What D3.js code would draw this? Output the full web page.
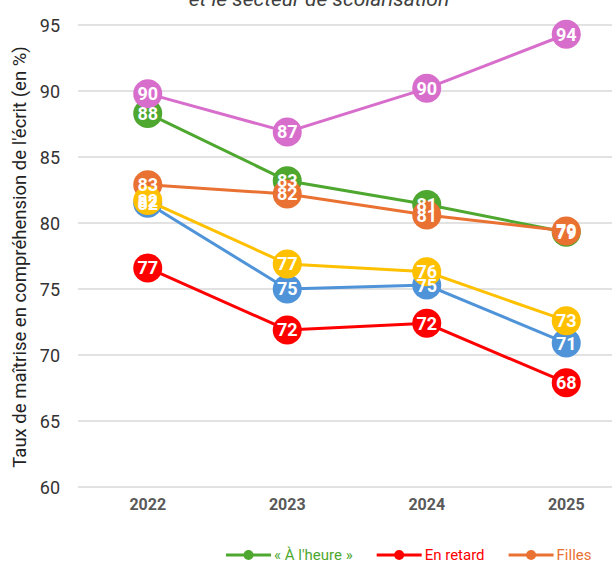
<!DOCTYPE html>
<html><head><meta charset="utf-8">
<script src="https://cdn.jsdelivr.net/npm/d3@7"></script>
<style>body{margin:0;background:#fff}svg{display:block;font-family:Roboto,"Noto Sans",sans-serif}</style>
</head><body><svg id="c" width="612" height="563"></svg>
<script>
const years = ["2022","2023","2024","2025"];
const yTicks = [60,65,70,75,80,85,90,95];
const seriesNames = ["« À l'heure »","Filles","Série bleue","Série jaune","En retard","Série rose"];
const seriesColors = ["#4ea72e","#e97132","#4f93d8","#ffc000","#ff0000","#d86ecc"];
const valAHeure = [88.3,83.2,81.4,79.3];
const valFilles = [82.9,82.2,80.6,79.4];
const valBleue = [81.5,75.0,75.3,70.9];
const valJaune = [81.7,76.9,76.3,72.6];
const valRetard = [76.6,71.9,72.4,67.9];
const valRose = [89.8,86.9,90.2,94.3];
const seriesValues = [valAHeure,valFilles,valBleue,valJaune,valRetard,valRose];
const legendIdx = [0,4,1];
const titleText = "et le secteur de scolarisation";
const yTitle = "Taux de maîtrise en compréhension de l'écrit (en %)";

const svg = d3.select("#c");
const x = d3.scaleBand().domain(years).range([78,636]).padding(0);
const y = d3.scaleLinear().domain([60,95]).range([487,25]);
const cx = d => x(d)+x.bandwidth()/2;

svg.append("text").attr("x",319).attr("y",6).attr("text-anchor","middle")
  .attr("font-size",21).attr("font-style","italic").attr("fill","#404040").text(titleText);

// grid
svg.append("g").selectAll("line").data(yTicks).join("line")
  .attr("x1",78).attr("x2",640).attr("y1",d=>y(d)).attr("y2",d=>y(d))
  .attr("stroke","#d9d9d9").attr("stroke-width",1.5);

// y axis labels
const yAxis = d3.axisLeft(y).tickValues(yTicks).tickSize(0).tickPadding(0);
const gy = svg.append("g").attr("transform","translate(60,0)").call(yAxis);
gy.select(".domain").remove();
gy.selectAll("text").attr("font-size",18).attr("fill","#333").attr("font-family","Roboto").attr("dy","0.35em");

// x axis labels
const xAxis = d3.axisBottom(x).tickSize(0).tickPadding(0);
const gx = svg.append("g").attr("transform","translate(0,504)").call(xAxis);
gx.select(".domain").remove();
gx.selectAll("text").attr("font-size",16).attr("font-weight","bold").attr("fill","#595959").attr("font-family","Roboto").attr("dy","0.35em");

// y title
svg.append("text").attr("transform","translate(26,257) rotate(-90)").attr("text-anchor","middle")
  .attr("font-size",18.5).attr("fill","#222").text(yTitle);

const line = d3.line().x((d,i)=>cx(years[i])).y(d=>y(d));
seriesValues.forEach((vals,si)=>{
  const g = svg.append("g");
  g.append("path").datum(vals).attr("d",line).attr("fill","none")
    .attr("stroke",seriesColors[si]).attr("stroke-width",3);
  g.selectAll("circle").data(vals).join("circle")
    .attr("cx",(d,i)=>cx(years[i])).attr("cy",d=>y(d)).attr("r",14.5)
    .attr("fill",seriesColors[si]);
});
seriesValues.forEach((vals,si)=>{
  svg.append("g").selectAll("text").data(vals).join("text")
    .attr("x",(d,i)=>cx(years[i])).attr("y",d=>y(d)).attr("dy","0.36em")
    .attr("text-anchor","middle").attr("font-size",18).attr("font-weight","bold")
    .attr("fill","#fff").text(d=>Math.round(d));
});

// legend
let lx = 226;
const ly = 555;
legendIdx.forEach(si=>{
  const g = svg.append("g");
  g.append("line").attr("x1",lx).attr("x2",lx+45).attr("y1",ly).attr("y2",ly)
    .attr("stroke",seriesColors[si]).attr("stroke-width",3);
  g.append("circle").attr("cx",lx+22.5).attr("cy",ly).attr("r",5).attr("fill",seriesColors[si]);
  const t = g.append("text").attr("x",lx+48).attr("y",ly).attr("dy","0.35em")
    .attr("font-size",15).attr("fill",seriesColors[si]).text(seriesNames[si]);
  lx += 48 + t.node().getComputedTextLength() + 24;
});
</script></body></html>
